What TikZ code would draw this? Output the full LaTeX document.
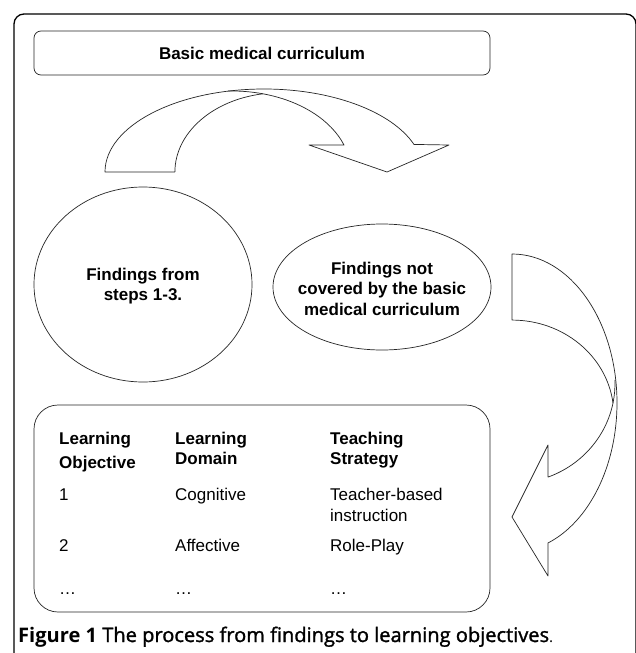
\documentclass[tikz,border=0pt]{standalone}
\usepackage{graphicx}
\usepackage{fontspec}
\setmainfont{Liberation Sans}
\newfontfamily\capfont{Open Sans}
\newfontfamily\capmed{Open Sans}[FakeBold=1.4]
\usetikzlibrary{shapes.geometric}
\begin{document}
\begin{tikzpicture}[x=1pt,y=-1pt,line join=round,
  shp/.style={draw=black!85,line width=0.7pt},
  lbl/.style={font=\fontsize{17}{20.5}\selectfont\bfseries,align=center,inner sep=0pt},
  cell/.style={font=\fontsize{17}{20.5}\selectfont,anchor=base west,inner sep=0pt},
  hcell/.style={cell,font=\fontsize{17}{20.5}\selectfont\bfseries}]
\useasboundingbox (0,0) rectangle (635,653);
\fill[white] (0,0) rectangle (635,653);
% outer frame
\draw[line width=1.3pt] (14,665) -- (14,24) arc[start angle=180,end angle=270,radius=10]
  -- (626,14) arc[start angle=270,end angle=360,radius=10] -- (636,665);
% top box
\node[shp,rounded corners=7pt,minimum width=456pt,minimum height=44pt,inner sep=0pt,lbl] (basic) at (262,53) {Basic medical curriculum};
% top curved arrow
\draw[shp] (105,172) arc[start angle=180,end angle=340.6,x radius=159,y radius=83]
  -- (449,145) -- (387,172) -- (309,145) -- (344.05,145.1)
  arc[start angle=340.6,end angle=285.1,x radius=118.8,y radius=81]
  arc[start angle=260.7,end angle=180,x radius=105,y radius=79.2] -- cycle;
\draw[shp] (262.95,93.8) arc[start angle=285.1,end angle=268,x radius=118.8,y radius=81];
% circle and ellipse
\node[shp,ellipse,minimum width=218pt,minimum height=195pt,inner sep=0pt] (find) at (143,284.5) {};
\node[lbl] (findtxt) at (143,286) {Findings from\\steps 1-3.};
\node[shp,ellipse,minimum width=218pt,minimum height=126pt,inner sep=0pt] (notcov) at (382,287) {};
\node[lbl] (notcovtxt) at (382,288.5) {Findings not\\covered by the basic\\medical curriculum};
% right curved arrow
\draw[shp] (512,254) arc[start angle=270,end angle=430,x radius=105,y radius=149]
  -- (548,576) -- (512,517) -- (548,445) -- (548.07,477.07)
  arc[start angle=69.5,end angle=11.3,x radius=103,y radius=100]
  arc[start angle=352.7,end angle=270,x radius=101.8,y radius=95] -- cycle;
\draw[shp] (613,403) arc[start angle=11.3,end angle=-2,x radius=103,y radius=100];
% table box
\node[shp,rounded corners=24pt,minimum width=456pt,minimum height=207pt,inner sep=0pt] (table) at (262,508.5) {};
\node[hcell] (h1a) at (59,444) {Learning};
\node[hcell] (h1b) at (59,468.6) {Objective};
\node[hcell] (h2a) at (175,444) {Learning};
\node[hcell] (h2b) at (175,464) {Domain};
\node[hcell] (h3a) at (330,444) {Teaching};
\node[hcell] (h3b) at (330,464) {Strategy};
\node[cell] (r1a) at (59,500) {1};
\node[cell] (r1b) at (175,500) {Cognitive};
\node[cell] (r1c) at (330,500) {Teacher-based};
\node[cell] (r1d) at (330,521) {instruction};
\node[cell] (r2a) at (59,551) {2};
\node[cell] (r2b) at (175,551) {Affective};
\node[cell] (r2c) at (330,551) {Role-Play};
\node[cell] (r3a) at (59,594) {…};
\node[cell] (r3b) at (175,594) {…};
\node[cell] (r3c) at (330,594) {…};
% caption
\node[anchor=base west,inner sep=0pt] (cap) at (18,642) {\resizebox{535pt}{!}{\capfont\fontsize{17}{20}\selectfont{\bfseries Figure 1} {\capmed The process from findings to learning objectives}{\fontsize{13}{15}\selectfont.}}};
\end{tikzpicture}
\end{document}
